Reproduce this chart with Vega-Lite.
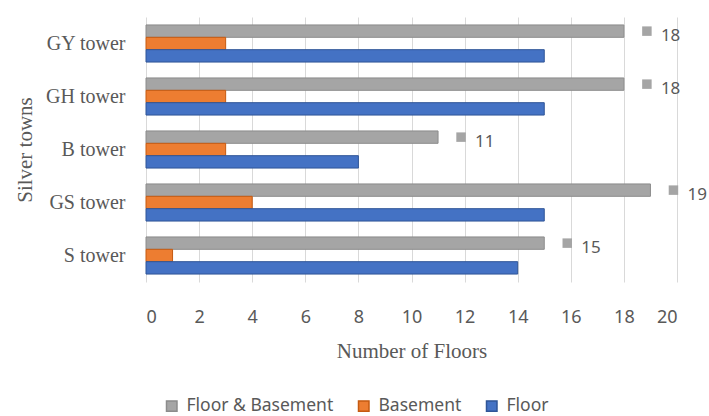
{
  "$schema": "https://vega.github.io/schema/vega-lite/v6.json",
  "width": 531,
  "height": 265,
  "autosize": "none",
  "padding": {"left": 146, "top": 17, "right": 32, "bottom": 134},
  "background": "white",
  "config": {"view": {"stroke": null}},
  "data": {
    "values": [
      {"tower": "GY tower", "series": "Floor & Basement", "value": 18},
      {"tower": "GY tower", "series": "Basement", "value": 3},
      {"tower": "GY tower", "series": "Floor", "value": 15},
      {"tower": "GH tower", "series": "Floor & Basement", "value": 18},
      {"tower": "GH tower", "series": "Basement", "value": 3},
      {"tower": "GH tower", "series": "Floor", "value": 15},
      {"tower": "B tower", "series": "Floor & Basement", "value": 11},
      {"tower": "B tower", "series": "Basement", "value": 3},
      {"tower": "B tower", "series": "Floor", "value": 8},
      {"tower": "GS tower", "series": "Floor & Basement", "value": 19},
      {"tower": "GS tower", "series": "Basement", "value": 4},
      {"tower": "GS tower", "series": "Floor", "value": 15},
      {"tower": "S tower", "series": "Floor & Basement", "value": 15},
      {"tower": "S tower", "series": "Basement", "value": 1},
      {"tower": "S tower", "series": "Floor", "value": 14}
    ]
  },
  "encoding": {
    "y": {
      "field": "tower", "type": "nominal",
      "sort": ["GY tower", "GH tower", "B tower", "GS tower", "S tower"],
      "scale": {"paddingInner": 0.3, "paddingOuter": 0.15},
      "axis": {
        "domain": false, "ticks": false, "labelPadding": 21,
        "labelFont": "Liberation Serif", "labelFontSize": 20, "labelColor": "#595959",
        "title": "Silver towns", "titleFont": "Liberation Serif", "titleFontSize": 21,
        "titleFontWeight": "normal", "titleColor": "#595959", "titlePadding": 10
      }
    },
    "yOffset": {"field": "series", "type": "nominal", "sort": ["Floor & Basement", "Basement", "Floor"]},
    "x": {
      "field": "value", "type": "quantitative",
      "scale": {"domain": [0, 20], "nice": false},
      "axis": {
        "values": [0, 2, 4, 6, 8, 10, 12, 14, 16, 18, 20],
        "grid": true, "gridColor": "#D9D9D9", "domain": false, "ticks": false,
        "labelPadding": 26, "labelFont": "Noto Sans", "labelFontSize": 18, "labelColor": "#595959",
        "title": "Number of Floors", "titleFont": "Liberation Serif", "titleFontSize": 21,
        "titleFontWeight": "normal", "titleColor": "#595959", "titlePadding": 14
      }
    }
  },
  "layer": [
    {
      "mark": {"type": "bar", "strokeWidth": 1},
      "encoding": {
        "color": {
          "field": "series", "type": "nominal",
          "sort": ["Floor & Basement", "Basement", "Floor"],
          "scale": {"domain": ["Floor & Basement", "Basement", "Floor"], "range": ["#A5A5A5", "#ED7D31", "#4472C4"]},
          "legend": {
            "title": null, "orient": "none", "direction": "horizontal",
            "legendX": 17, "legendY": 380, "symbolType": "square", "symbolSize": 110,
            "labelFont": "Noto Sans", "labelFontSize": 17.5, "labelColor": "#595959",
            "columnPadding": 21, "labelOffset": 6
          }
        },
        "stroke": {
          "field": "series", "type": "nominal",
          "scale": {"domain": ["Floor & Basement", "Basement", "Floor"], "range": ["#8C8C8C", "#C55A11", "#2F5597"]},
          "legend": null
        }
      }
    },
    {
      "transform": [{"filter": "datum.series === 'Floor & Basement'"}],
      "mark": {"type": "point", "shape": "square", "filled": true, "size": 90, "color": "#A5A5A5", "xOffset": 23, "yOffset": -1, "opacity": 1}
    },
    {
      "transform": [{"filter": "datum.series === 'Floor & Basement'"}],
      "mark": {"type": "text", "align": "left", "dx": 37, "dy": 5, "font": "Noto Sans", "fontSize": 17, "color": "#595959"},
      "encoding": {"text": {"field": "value", "type": "quantitative"}}
    }
  ]
}
